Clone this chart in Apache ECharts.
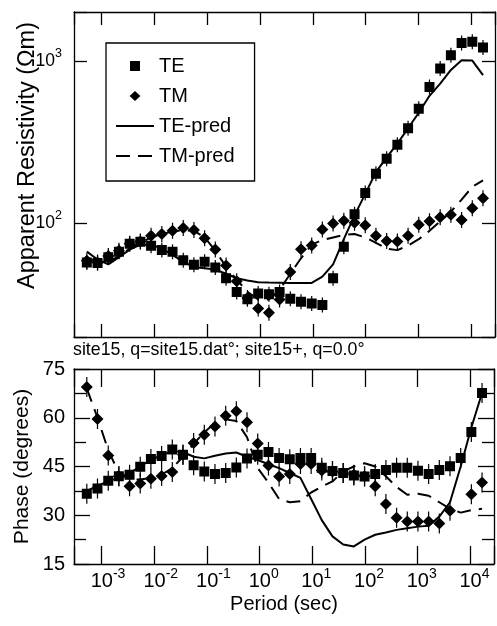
<!DOCTYPE html>
<html>
<head>
<meta charset="utf-8">
<script src="https://cdn.jsdelivr.net/npm/echarts@6/dist/echarts.min.js"></script>
<style>html,body{margin:0;padding:0;background:#fff;}#c{width:497px;height:626px;}</style>
</head>
<body>
<div id="c"></div>
<script>
// Periods (sec)
const periods = [5.25e-4, 8.37e-4, 1.34e-3, 2.13e-3, 3.40e-3, 5.42e-3, 8.64e-3, 0.0138, 0.0220, 0.0351,
  0.0559, 0.0891, 0.142, 0.227, 0.361, 0.576, 0.920, 1.47, 2.34, 3.73,
  5.95, 9.49, 15.1, 24.1, 38.5, 61.4, 97.9, 156, 249, 397,
  633, 1009, 1610, 2567, 4095, 6530, 10410, 16600];
// Apparent resistivity (Ohm m)
const teRho = [57.4, 57, 62, 67, 75, 77, 73, 68.5, 67, 59.4,
  55.6, 58, 53.5, 46, 37.9, 34.1, 37, 36.6, 37.9, 34.4,
  33, 32.1, 31.5, 46, 71.8, 114, 154, 202, 250, 305,
  385, 508, 691, 898, 1083, 1291, 1310, 1210];
const tmRho = [59, 57.4, 63, 68, 75, 77.4, 84, 86, 90, 93.7,
  91, 81, 69, 55, 44, 34.8, 30, 28.2, 34, 50.2,
  69.3, 73.2, 91.8, 100, 104, 101, 97.5, 84, 78, 77.4,
  84, 98, 103, 109, 113, 105, 124, 143];
const tePredRho = [67, 60, 56, 62, 69, 74, 74, 70, 64, 58,
  54, 53, 52, 49, 46, 44.5, 43.5, 43.3, 43.2, 43,
  43, 43, 47, 56, 80, 112, 152, 207, 255, 310,
  385, 480, 610, 725, 880, 1010, 1005, 817];
const tmPredRho = [62, 57, 58, 63, 70, 76, 82, 86, 89, 91,
  90, 82, 68, 54, 45, 38, 34, 34, 39, 49,
  61, 74, 79, 82, 85, 86, 82, 76, 70, 68.5,
  73, 80, 90, 103, 118, 140, 168, 184];
// Phase (degrees)
const tePh = [36.6, 38.2, 40.6, 42.0, 42.5, 44.9, 47.3, 48.2, 50.2, 48.6,
  45.4, 43.5, 42.7, 43.0, 44.7, 47.5, 48.6, 49.5, 47.6, 47.2,
  47.6, 47.6, 44.6, 43.6, 43.0, 42.2, 41.9, 42.7, 43.9, 44.6,
  44.6, 43.7, 42.7, 43.9, 45.1, 47.6, 55.6, 67.6];
const tmPh = [69.5, 59.6, 48.4, 42.0, 38.9, 39.8, 41.2, 42.1, 43.3, 48.6,
  52.2, 54.8, 57.3, 60.6, 62.0, 58.6, 52.1, 45.3, 41.9, 42.7,
  45.8, 45.8, 43.8, 43.5, 43.0, 42.5, 42.0, 38.9, 33.5, 29.2,
  28.1, 28.1, 28.1, 27.5, 31.4, null, 36.5, 40.1];
const tePredPh = [37.5, 39, 40.5, 41.5, 43, 45, 47, 48.5, 49.7, 49.5,
  48, 47.5, 48.3, 49, 49.3, 48, 47, 45.7, 44.5, 43,
  41.5, 35, 28.5, 23.5, 21, 20.4, 22.5, 24, 24.7, 25.5,
  26, 26.5, 26.8, 29.6, 34, 45, 57, 67.6];
const tmPredPh = [69, 60, 50, 43, 41, 41, 41.5, 42.5, 44.5, 48,
  52, 55.5, 58.5, 59.5, 59, 54, 44.5, 40, 35, 34,
  34.3, 37, 38.8, 40.4, 43.5, 45, 46, 45, 42, 38.7,
  36.3, 36.6, 36, 34, 32, 30.8, 31.6, 32];
const phaseTicks = [15, 30, 45, 60, 75];
const captionText = 'site15, q=site15.dat°; site15+, q=0.0°';

const FONT = '"Liberation Sans", Arial, Helvetica, sans-serif';
const pairs = (ys) => periods.map((p, i) => [p, ys[i]]).filter(d => d[1] != null);

const SQ_TOP = 'path://M0,2.5H10V12.5H0Z M4.4,0H5.6V15H4.4Z';
const DI_TOP = 'path://M6,2L12,8L6,14L0,8Z M5.4,0H6.6V16H5.4Z';
const SQ_BOT = 'path://M0,5H10V15H0Z M4.4,0H5.6V20H4.4Z';
const DI_BOT = 'path://M6,4L12,10L6,16L0,10Z M5.4,0H6.6V20H5.4Z';

function isPow10(v) {
  const l = Math.log10(v);
  return Math.abs(l - Math.round(l)) < 1e-6 ? Math.round(l) : null;
}
const richX = {
  b: {fontSize: 20, lineHeight: 28, verticalAlign: 'middle', fontFamily: FONT, color: '#000'},
  s: {fontSize: 14, verticalAlign: 'top', fontFamily: FONT, color: '#000'},
  sp1: {width: 8}, sp2: {width: 13}
};
const richY = {
  b: {fontSize: 17.5, lineHeight: 28, verticalAlign: 'middle', fontFamily: FONT, color: '#000'},
  s: {fontSize: 12.5, verticalAlign: 'top', fontFamily: FONT, color: '#000'}
};
const axLine = {lineStyle: {color: '#000', width: 1.3}, onZero: false};
const tickStyle = {color: '#000', width: 1.3};

function logX(grid, pos, len, labels) {
  return {
    gridIndex: grid, type: 'log', position: pos, min: 3e-4, max: 2.8e4,
    axisLine: axLine,
    axisTick: {inside: true, length: len, lineStyle: tickStyle},
    axisLabel: labels ? {
      show: true, margin: 3, rich: richX, showMinLabel: true, showMaxLabel: true, hideOverlap: false,
      formatter: v => { const e = isPow10(v); return e === null ? '' : '{sp' + (e < 0 ? '2' : '1') + '|}{b|10}{s|' + e + '}'; }
    } : {show: false},
    splitLine: {show: false}
  };
}

const option = {
  animation: false,
  backgroundColor: '#fff',
  textStyle: {fontFamily: FONT, color: '#000'},
  title: {
    text: captionText, left: 73, top: 341, padding: 0,
    textStyle: {fontSize: 17.8, fontWeight: 'normal', color: '#000', fontFamily: FONT}
  },
  legend: {
    orient: 'vertical', left: 106, top: 43,
    borderColor: '#000', borderWidth: 1.3, padding: [13, 20, 15, 9],
    itemGap: 10, itemWidth: 38, itemHeight: 10,
    textStyle: {fontSize: 20, color: '#000', fontFamily: FONT},
    selectedMode: false,
    data: [
      {name: 'TE', icon: 'path://M0,0H10V10H0Z'},
      {name: 'TM', icon: 'path://M6,0L12,5.5L6,11L0,5.5Z'},
      {name: 'TE-pred', itemStyle: {opacity: 0}},
      {name: 'TM-pred', itemStyle: {opacity: 0}}
    ]
  },
  grid: [
    {left: 74, right: 2, top: 12, height: 325},
    {left: 74, right: 2, top: 369, height: 195}
  ],
  xAxis: [
    logX(0, 'bottom', 13, false),
    logX(0, 'top', 13, false),
    Object.assign(logX(1, 'bottom', 18, true), {
      name: 'Period (sec)', nameLocation: 'middle', nameGap: 30, nameMoveOverlap: false,
      nameTextStyle: {fontSize: 20, color: '#000', fontFamily: FONT}
    }),
    logX(1, 'top', 18, false)
  ],
  yAxis: [
    {
      gridIndex: 0, type: 'log', min: 20, max: 2000, position: 'left',
      axisLine: axLine, axisTick: {inside: true, length: 13, lineStyle: tickStyle},
      axisLabel: {margin: 12, rich: richY, formatter: v => { const e = isPow10(v); return e === null ? '' : '{b|10}{s|' + e + '}'; }},
      splitLine: {show: false},
      name: 'Apparent Resistivity (Ωm)', nameLocation: 'middle', nameGap: 34, nameMoveOverlap: false,
      nameTextStyle: {fontSize: 23.5, color: '#000', fontFamily: FONT, padding: [0, 0, 0, 38]}
    },
    {
      gridIndex: 0, type: 'log', min: 20, max: 2000, position: 'right',
      axisLine: axLine, axisTick: {inside: true, length: 13, lineStyle: tickStyle},
      axisLabel: {show: false}, splitLine: {show: false}
    },
    {
      gridIndex: 1, type: 'value', min: phaseTicks[0], max: phaseTicks[phaseTicks.length - 1], interval: 15, position: 'left',
      axisLine: axLine, axisTick: {inside: true, length: 16, lineStyle: tickStyle},
      minorTick: {show: true, splitNumber: 2, length: 12, lineStyle: tickStyle},
      axisLabel: {margin: 9, fontSize: 20, color: '#000', fontFamily: FONT},
      splitLine: {show: false}, minorSplitLine: {show: false},
      name: 'Phase (degrees)', nameLocation: 'middle', nameGap: 41, nameMoveOverlap: false,
      nameTextStyle: {fontSize: 21, color: '#000', fontFamily: FONT}
    },
    {
      gridIndex: 1, type: 'value', min: phaseTicks[0], max: phaseTicks[phaseTicks.length - 1], interval: 15, position: 'right',
      axisLine: axLine, axisTick: {inside: true, length: 16, lineStyle: tickStyle},
      minorTick: {show: true, splitNumber: 2, length: 12, lineStyle: tickStyle},
      axisLabel: {show: false}, splitLine: {show: false}
    }
  ],
  series: [
    {name: 'TE-pred', type: 'line', xAxisIndex: 0, yAxisIndex: 0, data: pairs(tePredRho), symbol: 'none',
      lineStyle: {color: '#000', width: 2}, itemStyle: {color: '#000'}, z: 2},
    {name: 'TM-pred', type: 'line', xAxisIndex: 0, yAxisIndex: 0, data: pairs(tmPredRho), symbol: 'none',
      lineStyle: {color: '#000', width: 2, type: [14, 8]}, itemStyle: {color: '#000'}, z: 2},
    {name: 'TE', type: 'scatter', xAxisIndex: 0, yAxisIndex: 0, data: pairs(teRho), symbol: SQ_TOP,
      symbolSize: [10, 15], itemStyle: {color: '#000', opacity: 1}, z: 3},
    {name: 'TM', type: 'scatter', xAxisIndex: 0, yAxisIndex: 0, data: pairs(tmRho), symbol: DI_TOP,
      symbolSize: [12, 16], itemStyle: {color: '#000', opacity: 1}, z: 3},
    {name: 'TE-pred', type: 'line', xAxisIndex: 2, yAxisIndex: 2, data: pairs(tePredPh), symbol: 'none',
      lineStyle: {color: '#000', width: 2}, itemStyle: {color: '#000'}, z: 2},
    {name: 'TM-pred', type: 'line', xAxisIndex: 2, yAxisIndex: 2, data: pairs(tmPredPh), symbol: 'none',
      lineStyle: {color: '#000', width: 2, type: [14, 8]}, itemStyle: {color: '#000'}, z: 2},
    {name: 'TE', type: 'scatter', xAxisIndex: 2, yAxisIndex: 2, data: pairs(tePh), symbol: SQ_BOT,
      symbolSize: [10, 20], itemStyle: {color: '#000', opacity: 1}, z: 3},
    {name: 'TM', type: 'scatter', xAxisIndex: 2, yAxisIndex: 2, data: pairs(tmPh), symbol: DI_BOT,
      symbolSize: [12, 20], itemStyle: {color: '#000', opacity: 1}, z: 3}
  ]
};
const chart = echarts.init(document.getElementById('c'), null, {renderer: 'canvas'});
chart.setOption(option);
</script>
</body>
</html>
